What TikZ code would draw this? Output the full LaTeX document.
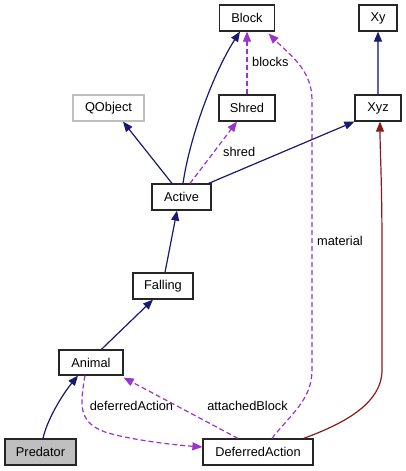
\documentclass[tikz,border=0pt]{standalone}
\usepackage{fontspec}
\setmainfont{Liberation Sans}
\usetikzlibrary{arrows.meta,calc}
\definecolor{navyc}{RGB}{25,25,112}
\definecolor{purp}{RGB}{154,50,205}
\definecolor{redc}{RGB}{139,26,26}
\definecolor{slateb}{RGB}{92,100,164}
\definecolor{boxgray}{RGB}{191,191,191}
\begin{document}
\begin{tikzpicture}[x=1pt,y=1pt,
  every node/.style={font=\fontsize{12.8}{14}\selectfont,text=black},
  cls/.style={draw=black!85,line width=1.2pt,inner sep=0pt,minimum height=26pt,fill=white},
  tip/.style={-{Triangle[length=10pt,width=8pt]}},
  inh/.style={navyc,line width=1.2pt,tip},
  use/.style={purp,line width=1.2pt,dash pattern=on 5pt off 3pt,tip},
  tmpl/.style={redc,line width=1.2pt,tip},
  lbl/.style={inner sep=0pt}]
\useasboundingbox (0,0) rectangle (406,-471);
\node[cls,minimum width=55pt] (Block) at (247,-18) {Block};
\node[cls,minimum width=38pt] (Xy) at (378,-18) {Xy};
\node[cls,minimum width=71pt,draw=boxgray] (QObject) at (108.5,-108) {QObject};
\node[cls,minimum width=56pt] (Shred) at (247,-108) {Shred};
\node[cls,minimum width=46pt] (Xyz) at (378,-108) {Xyz};
\node[cls,minimum width=59pt] (Active) at (181.5,-197) {Active};
\node[cls,minimum width=60pt] (Falling) at (163,-286) {Falling};
\node[cls,minimum width=64pt,minimum height=25pt] (Animal) at (91,-362.5) {Animal};
\node[cls,minimum width=71pt,fill=boxgray] (Predator) at (40.5,-452) {Predator};
\node[cls,minimum width=110pt] (DeferredAction) at (258,-452) {DeferredAction};

% inheritance
\draw[inh] ([xshift=1.5pt]Active.north) .. controls (190,-135) and (215,-70) .. ([xshift=-7pt]Block.south);
\draw[inh] ([xshift=-9.5pt]Active.north) -- ([xshift=14.5pt]QObject.south);
\draw[inh] ([xshift=-3pt]Active.north east) -- (Xyz.south west);
\draw[slateb,line width=1.2pt,-{Triangle[length=10pt,width=8pt,color=navyc]}] (Xyz.north) -- (Xy.south);
\draw[inh] ([xshift=2pt]Falling.north) -- ([xshift=-4.5pt]Active.south);
\draw[inh] ([xshift=43pt]Animal.north west) -- ([xshift=-10pt]Falling.south);
\draw[inh] ([xshift=2.5pt]Predator.north) .. controls (47,-420) and (62,-395) .. ([xshift=-13pt]Animal.south);
\draw[tmpl] ([xshift=-10pt]DeferredAction.north east) .. controls (340,-425) and (382,-405) .. (382,-370) -- (382,-250) .. controls (382,-180) and (380,-150) .. ([xshift=2pt]Xyz.south);

% usage
\draw[use] (Shred.north) -- (Block.south);
\node[lbl,anchor=west] (blockslbl) at (252,-62) {blocks};
\draw[use] ([xshift=8.5pt]Active.north) -- ([xshift=-10pt]Shred.south);
\node[lbl,anchor=west] (shredlbl) at (223,-152) {shred};
\draw[use] ([xshift=14pt]DeferredAction.north) .. controls (290,-415) and (312,-400) .. (312,-370) -- (312,-100) .. controls (312,-70) and (290,-55) .. ([xshift=-6.5pt,yshift=-2pt]Block.south east);
\node[lbl,anchor=west] (matlbl) at (317,-241) {material};
\draw[use] ([xshift=-6pt]Animal.south) .. controls (80,-405) and (78,-422) .. (105,-432) .. controls (130,-440) and (175,-445) .. ([yshift=5pt]DeferredAction.west);
\node[lbl] (dalbl) at (131.5,-406) {deferredAction};
\draw[use] ([xshift=-20pt]DeferredAction.north) -- ([yshift=-2pt]Animal.south east);
\node[lbl] (ablbl) at (247.5,-406) {attachedBlock};
\end{tikzpicture}
\end{document}
